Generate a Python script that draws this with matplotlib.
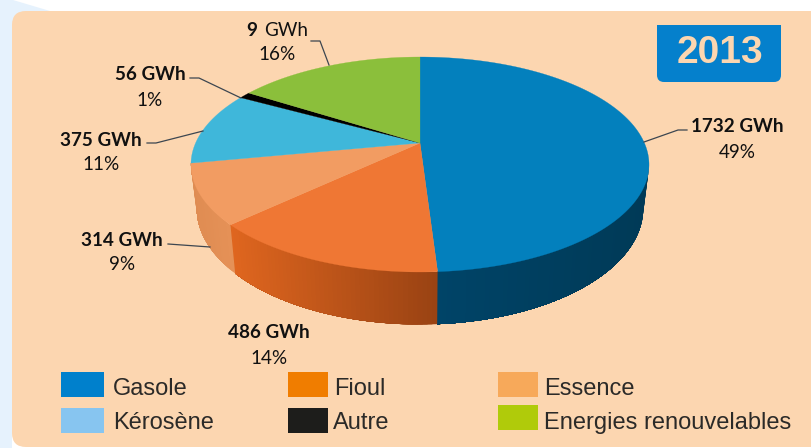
import numpy as np
import matplotlib
matplotlib.use("Agg")
import matplotlib.pyplot as plt
from matplotlib.patches import Rectangle, FancyBboxPatch, Polygon
from matplotlib.colors import to_rgb

# ---------- data ----------
categories = ["Gasole", "Fioul", "Essence", "Kérosène", "Autre", "Energies renouvelables"]
shares = [49, 14, 9, 11, 1, 16]
gwh_labels = ["1732", "486", "314", "375", "56", "9"]
top_colors = ["#0380bd", "#ef7734", "#f29c62", "#3fb7da", "#000000", "#8bbf3b"]
legend_colors = ["#0080cc", "#f07d00", "#f7a95a", "#87c5f0", "#1d1d1b", "#b0cb0a"]
year = "2013"

PEACH = "#fcd6b0"
# wall colours (left end, right end) for visible slices
wall_colors = {0: ("#004468", "#003a57"), 1: ("#e0661f", "#9a4313"), 2: ("#df8c52", "#e59157")}

# projective view of the disc
CX, CY, A, B, K = 420, 143, 224.4, 103.2, 0.2
SHRINK, DEPTH = 0.975, 42


def project(theta_deg, lower=False):
    t = np.radians(theta_deg)
    u, v = np.sin(t), np.cos(t)
    d = 1 + K * v
    x = A * u / d
    y = CY - B * v / d
    if lower:
        x = x * SHRINK
        y = y + DEPTH / d
    return CX + x, y


fig = plt.figure(figsize=(8.11, 4.48), dpi=100, facecolor="white")
ax = fig.add_axes([0, 0, 1, 1])
ax.set_xlim(0, 811)
ax.set_ylim(448, 0)
ax.axis("off")

# backdrop
ax.add_patch(Polygon([(0, 0), (13, 0), (50, 11), (12, 30), (12, 448), (0, 448)],
                     closed=True, fc="#e6f2fd", ec="none", zorder=0))
ax.add_patch(FancyBboxPatch((12, 11), 900, 436, boxstyle="round,pad=0,rounding_size=14",
                            fc=PEACH, ec="none", zorder=1))

# slice boundaries, clockwise from the top
edges = np.concatenate([[0], np.cumsum(shares)]) / np.sum(shares) * 360

# walls: visible from right extreme round to left extreme
wall_start, wall_end = 101.5, edges[3]
for i in (0, 1, 2):
    a0, a1 = max(edges[i], wall_start), min(edges[i + 1], wall_end)
    n = max(int((a1 - a0) / 1.0), 2)
    grid = np.linspace(a0, a1, n + 1)
    xs = project(grid)[0]
    xmin, xmax = xs.min(), xs.max()
    cl, cr = map(np.array, map(to_rgb, wall_colors[i]))
    # each strip runs on to the slice's far end, so later strips paint over it without seams
    for g0 in grid[:-1]:
        seg = np.linspace(g0, a1, max(int((a1 - g0) / 1.0), 1) + 1)
        tx, ty = project(seg)
        bx, by = project(seg, lower=True)
        f = (project(g0)[0] - xmin) / max(xmax - xmin, 1)
        c = cl + (cr - cl) * f
        ax.fill(np.r_[tx, bx[::-1]], np.r_[ty, by[::-1]], color=c, lw=0, zorder=2)

# top face
for i, col in enumerate(top_colors):
    grid = np.linspace(edges[i], edges[i + 1], 120)
    x, y = project(grid)
    ax.fill(np.r_[CX, x], np.r_[CY, y], color=col, lw=0.2, zorder=3)

# leader lines
leaders = [
    [(644, 142), (678, 130), (687, 130)],
    [(311, 41), (320, 41), (329, 65)],
    [(190, 78), (199, 78), (241, 98)],
    [(147, 143), (156, 143), (203, 131)],
    [(168, 244), (210, 247)],
]
for pts in leaders:
    p = np.array(pts)
    ax.plot(p[:, 0], p[:, 1], color="#3c4650", lw=0.9, zorder=4)

# value labels
label_pos = {0: (737, 127), 1: (269, 333), 2: (122, 240), 3: (101, 140), 4: (150, 75)}
LAB = dict(family="Lato", fontsize=13.6, color="#111111", ha="center", va="center", zorder=5)
for i, (x, y) in label_pos.items():
    ax.text(x, y, f"{gwh_labels[i]} GWh", fontweight="bold", **LAB)
    ax.text(x, y + 25, f"{shares[i]}%", **LAB)
LAB2 = dict(LAB)
LAB2.pop("ha")
ax.text(257, 30.5, gwh_labels[5], fontweight="bold", ha="right", **LAB2)
ax.text(264, 30.5, "GWh", ha="left", **LAB2)
ax.text(277, 55, f"{shares[5]}%", **LAB)

# year badge
ax.add_patch(FancyBboxPatch((657, 40), 124, 42, boxstyle="round,pad=0,rounding_size=7",
                            fc="#0580cc", ec="none", zorder=4))
ax.add_patch(Rectangle((657, 25), 124, 30, fc="#0580cc", ec="none", zorder=4))
ax.text(719.5, 53, year, family="Liberation Sans", fontweight="bold", fontsize=28,
        color=PEACH, ha="center", va="center", zorder=5)

# legend
legend_layout = [(61, 372, 43), (288, 372, 40), (498, 372, 40), (61, 408, 43), (288, 408, 40), (498, 405, 40)]
legend_text_x = [113, 334, 544, 113, 333, 544]
legend_text_y = [389, 389, 389, 423, 423, 423]
for i, name in enumerate(categories):
    sx, sy, sw = legend_layout[i]
    ax.add_patch(Rectangle((sx, sy), sw, 25, fc=legend_colors[i], ec="none", zorder=4))
    ax.text(legend_text_x[i], legend_text_y[i], name, family="Liberation Sans", fontsize=17,
            color="#2b2a28", ha="left", va="center", zorder=5)

fig.savefig("out.png", dpi=100, facecolor="white")
